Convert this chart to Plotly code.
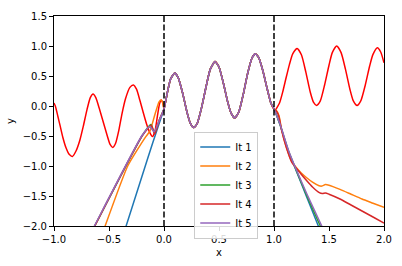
import plotly.graph_objects as go

# reference (red) curve
x_ref_left = [-1.0, -0.988, -0.965, -0.943, -0.92, -0.89, -0.86, -0.833, -0.80, -0.765, -0.734, -0.70,
              -0.67, -0.645, -0.62, -0.59, -0.555, -0.52, -0.49, -0.466, -0.44, -0.41, -0.382, -0.35,
              -0.31, -0.278, -0.25, -0.22, -0.19, -0.16, -0.13, -0.105, -0.08, -0.06, -0.04, -0.024, -0.01]
y_ref_left = [0.05, 0.0, -0.17, -0.34, -0.52, -0.70, -0.81, -0.84, -0.75, -0.57, -0.34, -0.06,
              0.14, 0.20, 0.14, -0.03, -0.25, -0.47, -0.64, -0.69, -0.62, -0.40, -0.13, 0.12,
              0.31, 0.35, 0.28, 0.10, -0.10, -0.29, -0.44, -0.51, -0.40, -0.17, 0.04, 0.10, 0.05]

x_inner = [0.0, 0.03, 0.06, 0.098, 0.13, 0.17, 0.21, 0.24, 0.27, 0.30, 0.34, 0.38, 0.42, 0.464, 0.50,
           0.54, 0.58, 0.61, 0.643, 0.68, 0.72, 0.76, 0.80, 0.83, 0.86, 0.90, 0.94, 0.97, 1.0]
y_inner = [-0.05, 0.22, 0.45, 0.55, 0.47, 0.21, -0.11, -0.29, -0.36, -0.30, -0.04, 0.30, 0.61, 0.74, 0.65,
           0.38, 0.06, -0.12, -0.20, -0.10, 0.19, 0.54, 0.80, 0.87, 0.81, 0.58, 0.27, 0.06, -0.05]

x_ref_right = [1.01, 1.05, 1.08, 1.11, 1.14, 1.17, 1.21, 1.25, 1.29, 1.33, 1.36, 1.387, 1.42, 1.46,
               1.50, 1.53, 1.57, 1.61, 1.65, 1.69, 1.72, 1.755, 1.79, 1.83, 1.87, 1.90, 1.94, 1.97, 2.0]
y_ref_right = [-0.07, 0.05, 0.24, 0.47, 0.69, 0.87, 0.96, 0.85, 0.56, 0.23, 0.06, 0.01, 0.08, 0.35,
               0.68, 0.89, 1.0, 0.89, 0.61, 0.28, 0.09, 0.01, 0.09, 0.35, 0.67, 0.86, 0.97, 0.90, 0.72]

# iterations: left extrapolation segments
xl1 = [-0.36, -0.2, -0.1, 0.0]
yl1 = [-2.09, -1.17, -0.60, -0.05]
xl2 = [-0.55, -0.535, -0.33, -0.173, -0.128, -0.084, -0.045, -0.025, -0.01]
yl2 = [-2.08, -2.0, -1.0, -0.53, -0.42, -0.15, 0.07, 0.10, 0.04]
xl3 = [-0.645, -0.63, -0.2, -0.12, -0.085, -0.04]
yl3 = [-2.05, -2.0, -0.5, -0.31, -0.45, -0.22]
xl4 = [-0.645, -0.63, -0.2, -0.115, -0.085, -0.04]
yl4 = [-2.05, -2.0, -0.5, -0.32, -0.47, -0.22]
xl5 = [-0.648, -0.633, -0.203, -0.13, -0.09, -0.045]
yl5 = [-2.05, -2.0, -0.5, -0.34, -0.43, -0.25]

# iterations: right extrapolation segments
xr1 = [1.054, 1.128, 1.2, 1.3, 1.403, 1.42]
yr1 = [-0.31, -0.74, -1.07, -1.53, -2.0, -2.08]
xr2 = [1.02, 1.045, 1.07, 1.11, 1.16, 1.2, 1.25, 1.3, 1.35, 1.41, 1.435, 1.467, 1.5, 1.6, 1.7, 1.8, 1.9, 2.0]
yr2 = [-0.07, -0.16, -0.40, -0.67, -0.92, -1.02, -1.12, -1.20, -1.27, -1.33, -1.335, -1.31, -1.32,
       -1.39, -1.47, -1.55, -1.62, -1.69]
xr3 = [1.055, 1.13, 1.2, 1.3, 1.421, 1.44]
yr3 = [-0.31, -0.74, -1.06, -1.50, -2.0, -2.08]
xr4 = [1.02, 1.045, 1.07, 1.11, 1.16, 1.24, 1.3, 1.35, 1.408, 1.44, 1.467, 1.5, 1.6, 1.7, 1.8, 1.9, 2.0]
yr4 = [-0.08, -0.18, -0.41, -0.68, -0.93, -1.12, -1.25, -1.35, -1.44, -1.46, -1.45, -1.47,
       -1.55, -1.65, -1.75, -1.85, -1.95]
xr5 = [1.056, 1.132, 1.2, 1.3, 1.434, 1.45]
yr5 = [-0.31, -0.74, -1.05, -1.47, -2.0, -2.07]

names = ["It 1", "It 2", "It 3", "It 4", "It 5"]
colors = ["#1f77b4", "#ff7f0e", "#2ca02c", "#d62728", "#9467bd"]
boundaries = [0, 1]
x_ticks = [-1.0, -0.5, 0.0, 0.5, 1.0, 1.5, 2.0]
y_ticks = [1.5, 1.0, 0.5, 0.0, -0.5, -1.0, -1.5, -2.0]

fig = go.Figure()
fig.add_trace(go.Scatter(x=x_ref_left + x_inner + x_ref_right, y=y_ref_left + y_inner + y_ref_right,
                         mode="lines", line=dict(color="red", width=1.5, shape="spline", smoothing=0.6),
                         showlegend=False, hoverinfo="skip"))

lefts = [(xl1, yl1), (xl2, yl2), (xl3, yl3), (xl4, yl4), (xl5, yl5)]
rights = [(xr1, yr1), (xr2, yr2), (xr3, yr3), (xr4, yr4), (xr5, yr5)]
for (xl, yl), (xr, yr), n, c in zip(lefts, rights, names, colors):
    fig.add_trace(go.Scatter(x=xl + x_inner + xr, y=yl + y_inner + yr, mode="lines", name=n,
                             line=dict(color=c, width=1.5, shape="spline", smoothing=0.5)))

for b in boundaries:
    fig.add_vline(x=b, line=dict(color="black", width=1.5, dash="6px,2.5px"), layer="above")

axis_common = dict(showline=True, linecolor="black", linewidth=1, mirror=True, ticks="outside",
                   ticklen=4, tickwidth=1, tickcolor="black", showgrid=False, zeroline=False,
                   tickfont=dict(size=10, color="black"), tickformat=".1f")
fig.update_xaxes(range=[-1, 2], tickvals=x_ticks, title=dict(text="x", font=dict(size=10), standoff=4),
                 **axis_common)
fig.update_yaxes(range=[-2, 1.5], tickvals=y_ticks, title=dict(text="y", font=dict(size=10), standoff=6),
                 **axis_common)

fig.update_layout(width=402, height=266, autosize=False,
                  margin=dict(l=52, r=15, t=10, b=38),
                  plot_bgcolor="white", paper_bgcolor="white",
                  font=dict(family="DejaVu Sans", size=10, color="black"),
                  legend=dict(x=0.425, y=0.45, xanchor="left", yanchor="top",
                              bgcolor="rgba(255,255,255,0.85)", bordercolor="#cccccc", borderwidth=1,
                              font=dict(size=10), tracegroupgap=0, itemwidth=30))
fig.write_html("out.html", config={"displayModeBar": False},
               post_script="document.body.style.margin='0';")
